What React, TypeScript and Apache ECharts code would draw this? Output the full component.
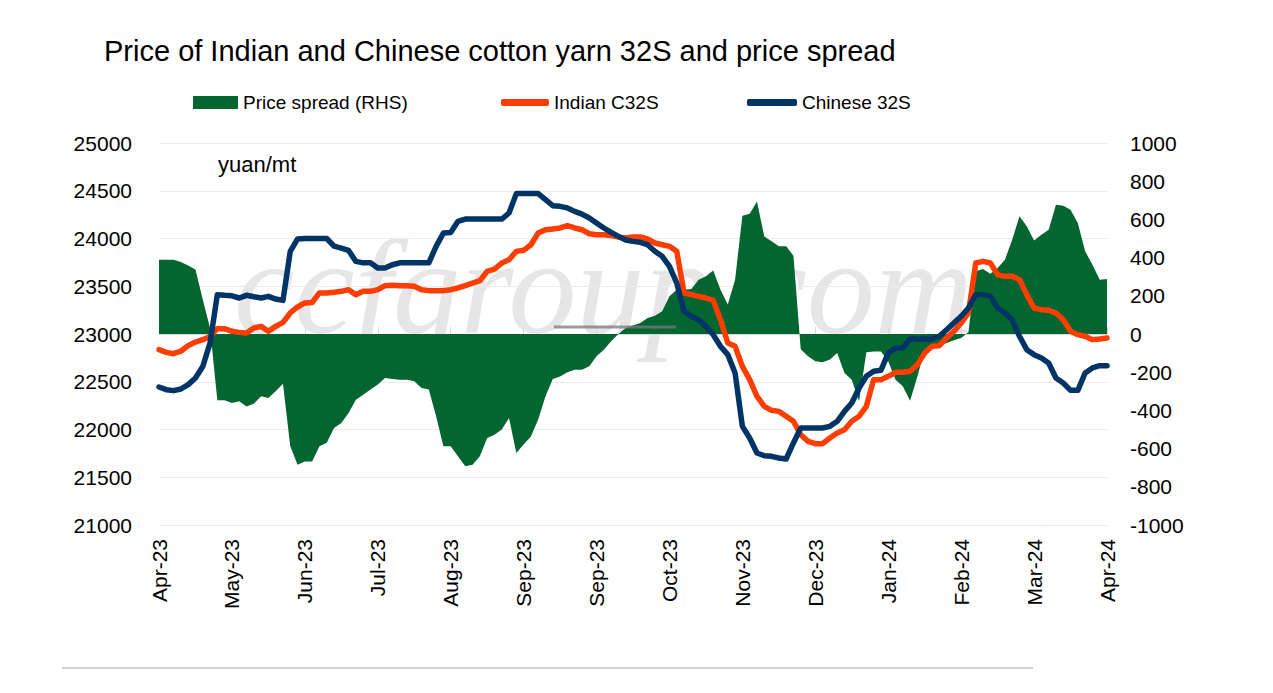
import React, { useEffect, useRef } from "react";
import * as echarts from "echarts";

const tickLabels = [
  "Apr-23", "May-23", "Jun-23", "Jul-23", "Aug-23", "Sep-23", "Sep-23",
  "Oct-23", "Nov-23", "Dec-23", "Jan-24", "Feb-24", "Mar-24", "Apr-24",
];
const pointsPerTick = 10;

const chinese32S = [
  22445, 22417, 22407, 22424, 22470, 22540, 22660, 22905, 23412, 23405,
  23400, 23377, 23405, 23390, 23377, 23394, 23366, 23352, 23865, 23995,
  24000, 24000, 24000, 24000, 23920, 23900, 23875, 23760, 23745, 23745,
  23690, 23690, 23725, 23745, 23745, 23745, 23745, 23745, 23918, 24057,
  24064, 24180, 24204, 24204, 24204, 24204, 24204, 24204, 24267, 24470,
  24470, 24470, 24470, 24406, 24344, 24337, 24320, 24284, 24256, 24215,
  24162, 24110, 24064, 24022, 23985, 23970, 23960, 23935, 23866, 23813,
  23708, 23534, 23237, 23185, 23150, 23080, 22993, 22871, 22784, 22592,
  22033, 21911, 21754, 21726, 21719, 21702, 21691, 21859, 22016, 22016,
  22016, 22016, 22033, 22086, 22190, 22278, 22435, 22557, 22610, 22620,
  22800, 22853, 22853, 22948, 22948, 22948, 22948, 22976, 23045, 23115,
  23185, 23272, 23412, 23412, 23394, 23272, 23220, 23150, 22976, 22836,
  22784, 22749, 22696, 22539, 22487, 22410, 22410, 22592, 22644, 22668,
  22668,
];

const indianC32S = [
  22836, 22808, 22794, 22820, 22878, 22916, 22940, 22975, 23056, 23056,
  23028, 23017, 23010, 23063, 23080, 23028, 23080, 23122, 23220, 23283,
  23325, 23330, 23430, 23430, 23436, 23447, 23464, 23412, 23447, 23447,
  23464, 23506, 23510, 23506, 23506, 23500, 23464, 23454, 23454, 23454,
  23464, 23482, 23506, 23534, 23558, 23656, 23680, 23743, 23778, 23865,
  23876, 23935, 24057, 24092, 24099, 24110, 24134, 24110, 24092, 24050,
  24040, 24040, 24030, 24016, 24005, 24016, 24016, 23995, 23953, 23935,
  23918, 23866, 23429, 23412, 23394, 23377, 23352, 23150, 22906, 22871,
  22661, 22522, 22347, 22243, 22201, 22190, 22138, 22086, 21946, 21876,
  21852, 21852, 21911, 21963, 21998, 22086, 22138, 22243, 22522, 22522,
  22557, 22599, 22599, 22609, 22679, 22801, 22871, 22878, 22958, 23028,
  23115, 23220, 23743, 23761, 23743, 23621, 23604, 23604, 23569, 23412,
  23272, 23255, 23248, 23220, 23150, 23028, 22993, 22976, 22941, 22948,
  22958,
];

const priceSpread = [
  389, 389, 389, 377, 358, 338, 180, 31, -347, -347,
  -361, -352, -379, -365, -326, -335, -300, -260, -588, -684,
  -667, -667, -588, -570, -492, -466, -414, -344, -318, -291,
  -265, -230, -236, -239, -239, -248, -283, -291, -431, -588,
  -588, -640, -693, -684, -640, -544, -527, -500, -440, -623,
  -579, -536, -448, -326, -236, -222, -200, -187, -187, -169,
  -117, -82, -38, 0, 31, 44, 58, 84, 96, 119,
  197, 232, 232, 236, 284, 302, 333, 232, 154, 284,
  619, 630, 694, 511, 485, 459, 459, 410, -80, -117,
  -143, -148, -134, -99, -204, -239, -352, -95, -91, -91,
  -143, -239, -274, -350, -222, -82, -73, -61, -47, -33,
  -21, 10, 328, 340, 316, 345, 389, 494, 616, 564,
  489, 520, 546, 677, 672, 651, 581, 433, 363, 284,
  288,
];

const categories = chinese32S.map((_, i) =>
  i % pointsPerTick === 0 ? tickLabels[i / pointsPerTick] : ""
);

const FONT = "Liberation Sans";

export default function App() {
  const ref = useRef<HTMLDivElement>(null);

  useEffect(() => {
    document.body.style.margin = "0";
    if (!ref.current) return;
    const chart = echarts.init(ref.current, null, { renderer: "svg" });
    const plain = (v: number) => String(v);
    const option: any = {
      animation: false,
      backgroundColor: "#ffffff",
      textStyle: { fontFamily: FONT, color: "#000" },
      title: {
        text: "Price of Indian and Chinese cotton yarn 32S and price spread",
        left: 104,
        top: 36,
        padding: 0,
        textStyle: { fontFamily: FONT, fontSize: 29, fontWeight: "normal", color: "#000" },
      },
      legend: [
        {
          data: [{ name: "Price spread (RHS)", icon: "rect" }],
          left: 193,
          top: 93,
          padding: 0,
          itemWidth: 45,
          itemHeight: 13,
          textStyle: { fontFamily: FONT, fontSize: 19, color: "#000" },
        },
        {
          data: [{ name: "Indian C32S", icon: "roundRect" }],
          left: 501,
          top: 93,
          padding: 0,
          itemWidth: 48,
          itemHeight: 7,
          textStyle: { fontFamily: FONT, fontSize: 19, color: "#000" },
        },
        {
          data: [{ name: "Chinese 32S", icon: "roundRect" }],
          left: 747,
          top: 93,
          padding: 0,
          itemWidth: 50,
          itemHeight: 7,
          textStyle: { fontFamily: FONT, fontSize: 19, color: "#000" },
        },
      ],
      grid: { left: 159, right: 166, top: 143, bottom: 168, containLabel: false },
      xAxis: {
        type: "category",
        data: categories,
        boundaryGap: false,
        axisLine: { lineStyle: { color: "#d9d9d9", width: 1 } },
        axisTick: { show: true, inside: true, length: 7, interval: pointsPerTick - 1, lineStyle: { color: "#d9d9d9" } },
        axisLabel: {
          interval: pointsPerTick - 1,
          rotate: 90,
          margin: 14,
          fontSize: 21,
          color: "#000",
          fontFamily: FONT,
        },
        splitLine: { show: false },
      },
      yAxis: [
        {
          type: "value",
          min: 21000,
          max: 25000,
          interval: 500,
          axisLine: { show: false },
          axisTick: { show: false },
          axisLabel: { fontSize: 21, color: "#000", margin: 27, fontFamily: FONT, formatter: plain },
          splitLine: { lineStyle: { color: "#ebebeb", width: 1 } },
        },
        {
          type: "value",
          min: -1000,
          max: 1000,
          interval: 200,
          position: "right",
          axisLine: { show: false },
          axisTick: { show: false },
          axisLabel: { fontSize: 21, color: "#000", margin: 23, fontFamily: FONT, formatter: plain },
          splitLine: { show: false },
        },
      ],
      graphic: [
        {
          type: "text",
          x: 234,
          y: 287,
          z: -10,
          silent: true,
          style: {
            text: "ccfgroup.com",
            fontFamily: "Liberation Serif",
            fontStyle: "italic",
            fontSize: 136,
            fill: "#e6e6e6",
            align: "left",
            verticalAlign: "middle",
          },
        },
        {
          type: "text",
          x: 218,
          y: 164,
          style: {
            text: "yuan/mt",
            fontFamily: FONT,
            fontSize: 22,
            fill: "#000",
            align: "left",
            verticalAlign: "middle",
          },
        },
        {
          type: "line",
          z: 100,
          shape: { x1: 554, y1: 327, x2: 676, y2: 327 },
          style: { stroke: "#7a7a7a", lineWidth: 3, opacity: 0.75 },
        },
        {
          type: "line",
          shape: { x1: 62, y1: 668, x2: 1033, y2: 668 },
          style: { stroke: "#d0d0d0", lineWidth: 2 },
        },
      ],
      series: [
        {
          name: "Price spread (RHS)",
          type: "line",
          yAxisIndex: 1,
          data: priceSpread,
          showSymbol: false,
          symbol: "none",
          lineStyle: { width: 0, color: "#036630" },
          itemStyle: { color: "#036630" },
          areaStyle: { color: "#036630", opacity: 1 },
          z: 1,
        },
        {
          name: "Indian C32S",
          type: "line",
          yAxisIndex: 0,
          data: indianC32S,
          showSymbol: false,
          symbol: "none",
          lineStyle: { width: 5.5, color: "#ff3d00", join: "round", cap: "round" },
          itemStyle: { color: "#ff3d00" },
          z: 3,
        },
        {
          name: "Chinese 32S",
          type: "line",
          yAxisIndex: 0,
          data: chinese32S,
          showSymbol: false,
          symbol: "none",
          lineStyle: { width: 5.5, color: "#003466", join: "round", cap: "round" },
          itemStyle: { color: "#003466" },
          z: 4,
        },
      ],
    };
    chart.setOption(option);
    return () => chart.dispose();
  }, []);

  return <div ref={ref} style={{ width: 1273, height: 693, background: "#fff" }} />;
}
